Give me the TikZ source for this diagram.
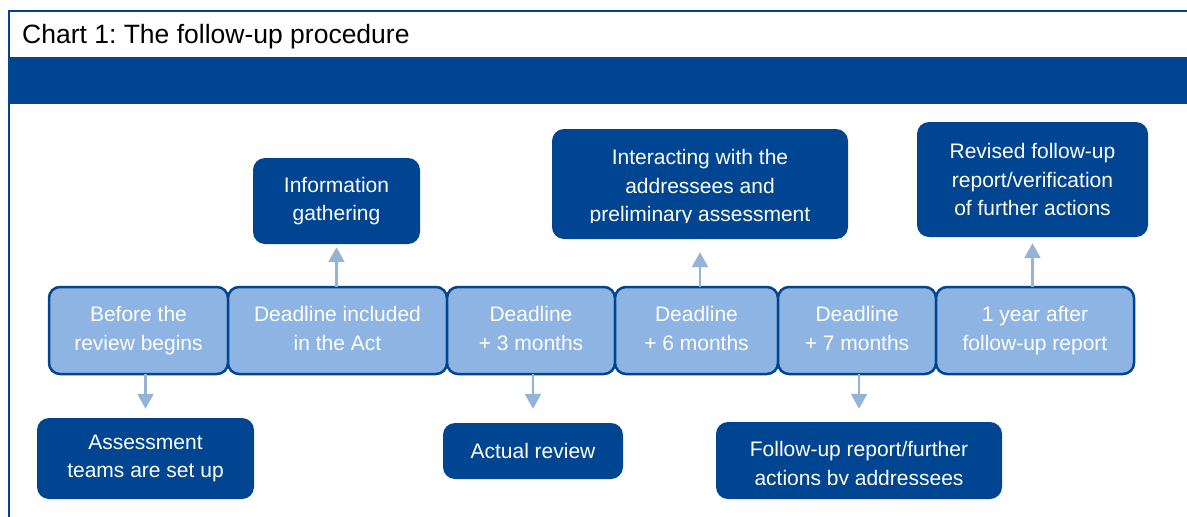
\documentclass[tikz,border=0pt]{standalone}
\usepackage{fontspec}
\setmainfont{Liberation Sans}
\usepackage{tikz}
\usetikzlibrary{arrows.meta}
\usetikzlibrary{positioning}

\definecolor{darkblue}{RGB}{0,69,145}
\definecolor{lightblue}{RGB}{141,180,226}
\definecolor{arrowblue}{RGB}{149,179,215}

\newcommand{\boxfont}{\fontsize{21}{28.5}\selectfont}
% two text lines with the same height and depth in every time line box
\newcommand{\twolines}[2]{\rule{0pt}{15.3pt}#1\\#2\rule[-4.5pt]{0pt}{0pt}}

\begin{document}
\begin{tikzpicture}[x=1pt,y=-1pt,
    stage/.style={draw=darkblue,line width=2.5pt,fill=lightblue,rounded corners=11pt,
                  text=white,font=\boxfont,align=center,outer sep=0pt,minimum height=87pt},
    task/.style={fill=darkblue,rounded corners=12pt,text=white,font=\boxfont,align=center},
    flow/.style={draw=arrowblue,line width=2.5pt,-{Triangle[width=16pt,length=15pt]}}]

  \useasboundingbox (0,0) rectangle (1187,517);

  % frame, title and band
  \draw[darkblue,line width=2pt] (9,530) -- (9,11) -- (1195,11);
  \node[anchor=base west,inner sep=0pt,font=\fontsize{26.5}{30}\selectfont] (title) at (22,43) {\frenchspacing Chart 1: The follow-up procedure};
  \fill[darkblue] (9,57) rectangle (1195,104);

  % time line
  \node[stage,minimum width=179pt] (t1) at (138.5,330.5) {\twolines{Before the}{review begins}};
  \node[stage,minimum width=219pt] (t2) [right=0pt of t1] {\twolines{Deadline included}{in the Act}};
  \node[stage,minimum width=168pt] (t3) [right=0pt of t2] {\twolines{Deadline}{+ 3 months}};
  \node[stage,minimum width=163pt] (t4) [right=0pt of t3] {\twolines{Deadline}{+ 6 months}};
  \node[stage,minimum width=158pt] (t5) [right=0pt of t4] {\twolines{Deadline}{+ 7 months}};
  \node[stage,minimum width=198pt] (t6) [right=0pt of t5] {\twolines{1 year after}{follow-up report}};

  % actions above the line
  \node[task,minimum width=167pt,minimum height=86pt] (a2) at (336.5,201) {Information\\gathering};
  \node[task,minimum width=296pt,minimum height=110pt] (a4) at (700,184) {};
  \begin{scope}
    \clip (552,120) rectangle (848,222);
    \node[text=white,font=\boxfont,align=center] (a4text) at (700,188) {Interacting with the\\addressees and\\preliminary assessment};
  \end{scope}
  \node[task,minimum width=231pt,minimum height=115pt] (a6) at (1032.5,179.5) {Revised follow-up\\report/verification\\of further actions};

  % actions below the line
  \node[task,minimum width=217pt,minimum height=81pt] (b1) at (145.5,458.5) {Assessment\\teams are set up};
  \node[task,minimum width=180pt,minimum height=56pt] (b3) at (533,451) {Actual review};
  \node[task,minimum width=286pt,minimum height=77pt] (b5) at (859,460.5) {};
  \begin{scope}
    \clip (716,410) rectangle (1002,484);
    \node[text=white,font=\boxfont,align=center] (b5text) at (859,465.5) {Follow-up report/further\\actions by addressees};
  \end{scope}

  % arrows
  \draw[flow,shorten >=9pt] (t1.south -| b1.north) -- (b1.north);
  \draw[flow,shorten >=3pt] (t2.north -| a2.south) -- (a2.south);
  \draw[flow,shorten >=14pt] (t3.south -| b3.north) -- (b3.north);
  \draw[flow,shorten >=13pt] (t4.north -| a4.south) -- (a4.south);
  \draw[flow,shorten >=13pt] (t5.south -| b5.north) -- (b5.north);
  \draw[flow,shorten >=6pt] (t6.north -| a6.south) -- (a6.south);
\end{tikzpicture}
\end{document}
